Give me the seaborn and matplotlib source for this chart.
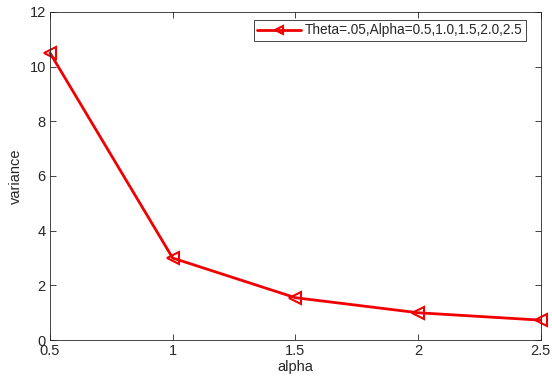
import matplotlib
matplotlib.use('Agg')
import matplotlib.pyplot as plt
import pandas as pd
import seaborn as sns

# Values
alpha = [0.5, 1.0, 1.5, 2.0, 2.5]
variance = [10.5, 3.0, 1.55, 1.0, 0.73]
label = 'Theta=.05,Alpha=0.5,1.0,1.5,2.0,2.5'

sns.set_style('ticks')
plt.rcParams['font.family'] = ['Liberation Sans', 'DejaVu Sans']

df = pd.DataFrame({'alpha': alpha, 'variance': variance})

fig = plt.figure(figsize=(5.52, 3.83), dpi=100)
ax = fig.add_axes([0.0906, 0.112, 0.889, 0.857])
sns.lineplot(data=df, x='alpha', y='variance', ax=ax, color='#f00000',
             linewidth=2, marker='<', markersize=8, markerfacecolor='none',
             markeredgecolor='#f00000', markeredgewidth=1.5, label=label,
             clip_on=False)

ax.set_xlim(0.5, 2.5)
ax.set_ylim(0, 12)
ax.set_xticks([0.5, 1, 1.5, 2, 2.5])
ax.set_xticklabels(['0.5', '1', '1.5', '2', '2.5'])
ax.set_yticks([0, 2, 4, 6, 8, 10, 12])
ax.set_xlabel('alpha', fontsize=10.5, color='#262626', labelpad=1)
ax.set_ylabel('variance', fontsize=10.5, color='#262626', labelpad=5)
ax.tick_params(direction='in', top=True, right=True, length=4, width=0.6,
               labelsize=10.5, labelcolor='#262626', color='#262626', pad=3)
for s in ax.spines.values():
    s.set_visible(True)
    s.set_color('#262626')
    s.set_linewidth(0.6)

leg = ax.legend(loc='upper right', bbox_to_anchor=(0.97, 0.975), fontsize=9.8,
                fancybox=False, framealpha=1, edgecolor='#262626',
                borderaxespad=0, handlelength=3.2, borderpad=0.25,
                handletextpad=0.3, markerscale=0.8)
leg.get_frame().set_linewidth(0.6)

fig.savefig('out.png', dpi=100)
